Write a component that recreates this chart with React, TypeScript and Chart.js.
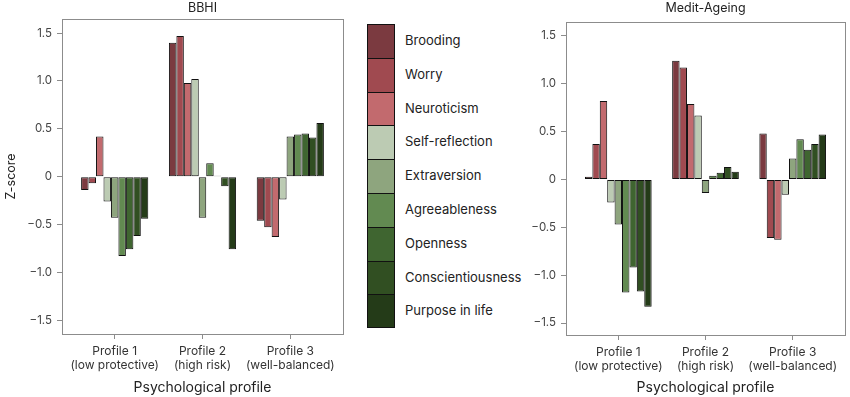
import React, { useEffect, useRef } from "react";
import { Chart, registerables } from "chart.js";

Chart.register(...registerables);

const traits = [
  "Brooding",
  "Worry",
  "Neuroticism",
  "Self-reflection",
  "Extraversion",
  "Agreeableness",
  "Openness",
  "Conscientiousness",
  "Purpose in life",
];

const traitColors = [
  "#7b3a40",
  "#a04a50",
  "#c26a6e",
  "#bccbb3",
  "#8ea57e",
  "#628a51",
  "#3f6530",
  "#314f22",
  "#243b18",
];

const profileLabels: string[][] = [
  ["Profile 1", "(low protective)"],
  ["Profile 2", "(high risk)"],
  ["Profile 3", "(well-balanced)"],
];

const yTicks = [-1.5, -1.0, -0.5, 0, 0.5, 1.0, 1.5];

// BBHI: z-scores per profile, one value per trait (trait order above)
const bbhiProfile1 = [-0.14, -0.07, 0.42, -0.26, -0.43, -0.83, -0.76, -0.62, -0.44];
const bbhiProfile2 = [1.4, 1.47, 0.98, 1.02, -0.43, 0.14, 0.01, -0.1, -0.76];
const bbhiProfile3 = [-0.46, -0.53, -0.63, -0.24, 0.42, 0.44, 0.45, 0.41, 0.56];

// Medit-Ageing
const meditProfile1 = [0.03, 0.37, 0.82, -0.24, -0.47, -1.18, -0.92, -1.17, -1.33];
const meditProfile2 = [1.24, 1.17, 0.79, 0.67, -0.14, 0.04, 0.07, 0.13, 0.08];
const meditProfile3 = [0.48, -0.61, -0.63, -0.16, 0.22, 0.42, 0.31, 0.37, 0.47];

const FONT = "Inter, 'Open Sans', 'DejaVu Sans', sans-serif";

function fmtTick(v: number): string {
  if (Math.abs(v) < 1e-9) return "0";
  return (v < 0 ? "\u2212" : "") + Math.abs(v).toFixed(1);
}

const framePlugin = {
  id: "frameAndTitle",
  afterDraw(chart: any, _args: any, opts: any) {
    const { ctx, chartArea } = chart;
    ctx.save();
    ctx.strokeStyle = "#8c8c8c";
    ctx.lineWidth = 1;
    ctx.strokeRect(
      Math.round(chartArea.left) + 0.5,
      Math.round(chartArea.top) + 0.5,
      Math.round(chartArea.right - chartArea.left),
      Math.round(chartArea.bottom - chartArea.top)
    );
    if (opts && opts.text) {
      ctx.fillStyle = "#222";
      ctx.font = `12.5px ${FONT}`;
      ctx.textAlign = "center";
      ctx.textBaseline = "middle";
      ctx.fillText(opts.text, (chartArea.left + chartArea.right) / 2, opts.y ?? 8);
    }
    ctx.restore();
  },
};

type PanelProps = {
  title: string;
  profiles: number[][];
  showYTitle: boolean;
  yAxisWidth: number;
  padTop: number;
  padRight: number;
  xAxisHeight: number;
  yMin: number;
  yMax: number;
  width: number;
  height: number;
};

function Panel(props: PanelProps) {
  const ref = useRef<HTMLCanvasElement | null>(null);
  useEffect(() => {
    if (!ref.current) return;
    const datasets = traits.map((t, i) => ({
      label: t,
      data: props.profiles.map((p, j) => ({ x: j, y: p[i] })),
      backgroundColor: traitColors[i],
      borderColor: "#111",
      borderWidth: 1,
      borderSkipped: false,
      categoryPercentage: 0.765,
      barPercentage: 1.0,
    }));
    const chart = new Chart(ref.current, {
      type: "bar",
      data: { datasets } as any,
      plugins: [framePlugin],
      options: {
        animation: false,
        responsive: false,
        layout: { padding: { top: props.padTop, right: props.padRight, left: 0, bottom: 0 } },
        plugins: {
          legend: { display: false },
          tooltip: { enabled: false },
          frameAndTitle: { text: props.title, y: 8 },
        } as any,
        scales: {
          x: {
            type: "linear",
            min: -0.6,
            max: 2.6,
            offset: false,
            afterBuildTicks: (s: any) => {
              s.ticks = [0, 1, 2].map((v) => ({ value: v }));
            },
            afterFit: (s: any) => {
              s.height = props.xAxisHeight;
            },
            grid: {
              display: true,
              offset: false,
              drawOnChartArea: false,
              drawTicks: true,
              tickLength: 5,
              color: "#8c8c8c",
            },
            border: { display: false },
            ticks: {
              autoSkip: false,
              maxRotation: 0,
              padding: 5,
              color: "#333",
              font: { family: FONT, size: 12 },
              callback: (v: any) => profileLabels[Math.round(Number(v))] || "",
            },
            title: {
              display: true,
              text: "Psychological profile",
              color: "#222",
              font: { family: FONT, size: 14 },
              padding: { top: 4, bottom: 1 },
            },
          },
          y: {
            type: "linear",
            min: props.yMin,
            max: props.yMax,
            afterBuildTicks: (s: any) => {
              s.ticks = yTicks.map((v) => ({ value: v }));
            },
            afterFit: (s: any) => {
              s.width = props.yAxisWidth;
            },
            grid: {
              display: true,
              offset: false,
              drawOnChartArea: false,
              drawTicks: true,
              tickLength: 5,
              color: "#8c8c8c",
            },
            border: { display: false },
            ticks: {
              padding: 5,
              color: "#444",
              font: { family: FONT, size: 11.5 },
              callback: (v: any) => fmtTick(Number(v)),
            },
            title: {
              display: props.showYTitle,
              text: "Z-score",
              color: "#222",
              font: { family: FONT, size: 12.5 },
              padding: { top: 4, bottom: 4 },
            },
          },
        },
      } as any,
    });
    return () => chart.destroy();
  }, []);
  return <canvas ref={ref} width={props.width} height={props.height} style={{ display: "block" }} />;
}

function Legend() {
  return (
    <div style={{ position: "absolute", left: 367, top: 24 }}>
      {traits.map((t, i) => (
        <div key={t} style={{ position: "relative", height: 33.8 }}>
          <div
            style={{
              position: "absolute",
              left: 0,
              top: 0,
              width: 28,
              height: 33.8,
              boxSizing: "border-box",
              background: traitColors[i],
              borderLeft: "1px solid #111",
              borderRight: "1px solid #111",
              borderTop: "1.5px solid #111",
              borderBottom: i === traits.length - 1 ? "1.5px solid #111" : "none",
            }}
          />
          <div
            style={{
              position: "absolute",
              left: 38,
              top: 0,
              height: 33.8,
              lineHeight: "33.8px",
              fontFamily: FONT,
              fontSize: 13,
              color: "#222",
              whiteSpace: "nowrap",
            }}
          >
            {t}
          </div>
        </div>
      ))}
    </div>
  );
}

export default function App() {
  return (
    <div
      style={{
        position: "fixed",
        left: 0,
        top: 0,
        width: 850,
        height: 397,
        background: "#fff",
        overflow: "hidden",
      }}
    >
      <div style={{ position: "absolute", left: 0, top: 0 }}>
        <Panel
          title="BBHI"
          profiles={[bbhiProfile1, bbhiProfile2, bbhiProfile3]}
          showYTitle={true}
          yAxisWidth={62}
          padTop={19}
          padRight={17}
          xAxisHeight={63}
          yMin={-1.645}
          yMax={1.648}
          width={360}
          height={397}
        />
      </div>
      <Legend />
      <div style={{ position: "absolute", left: 520, top: 0 }}>
        <Panel
          title="Medit-Ageing"
          profiles={[meditProfile1, meditProfile2, meditProfile3]}
          showYTitle={false}
          yAxisWidth={46}
          padTop={22}
          padRight={5}
          xAxisHeight={62}
          yMin={-1.625}
          yMax={1.646}
          width={330}
          height={397}
        />
      </div>
    </div>
  );
}
